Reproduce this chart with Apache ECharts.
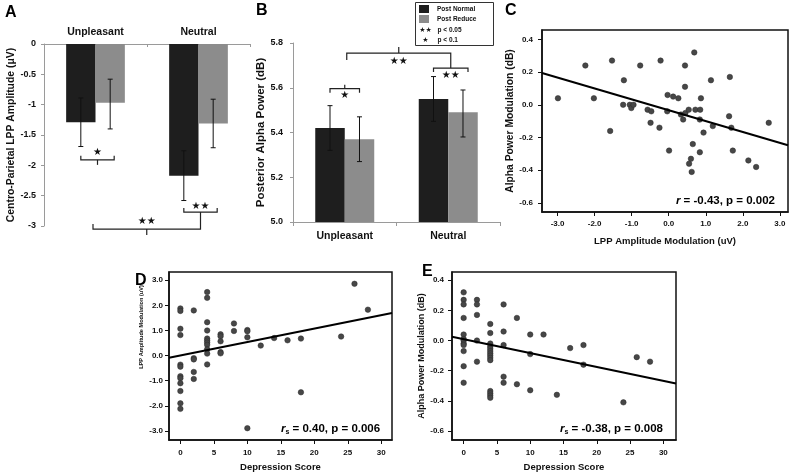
<!DOCTYPE html>
<html><head><meta charset="utf-8">
<script src="https://cdn.jsdelivr.net/npm/echarts@6/dist/echarts.min.js"></script>
<style>html,body{margin:0;padding:0;background:#fff}#c{width:791px;height:473px}</style>
</head><body><div id="c"></div><script>
const FONT = '"Liberation Sans", Arial, Helvetica, sans-serif';
const STARFONT = '"DejaVu Sans", sans-serif';

// ---- Panels A & B: bar charts ----
const conditions = ['Unpleasant', 'Neutral'];
const seriesNames = ['Post Normal', 'Post Reduce'];
const lppNormal = [-1.29, -2.17];
const lppReduce = [-0.97, -1.31];
const lppNormalLow = [-1.69, -2.58];
const lppNormalHigh = [-0.89, -1.76];
const lppReduceLow = [-1.40, -1.71];
const lppReduceHigh = [-0.58, -0.91];
const alphaNormal = [5.42, 5.55];
const alphaReduce = [5.37, 5.49];
const alphaNormalLow = [5.32, 5.45];
const alphaNormalHigh = [5.52, 5.65];
const alphaReduceLow = [5.27, 5.38];
const alphaReduceHigh = [5.47, 5.59];

// ---- Panel C: LPP modulation vs alpha modulation ----
const lppModC = [-2.99,-2.25,-2.02,-1.53,-1.58,-1.21,-1.23,-1.05,-1.01,-0.95,-0.77,-0.57,-0.47,-0.49,-0.25,-0.22,-0.04,-0.03,0.01,0.12,0.26,0.33,0.44,0.44,0.39,0.45,0.54,0.69,0.72,0.85,0.87,0.84,0.65,0.84,0.60,0.55,0.62,0.94,1.14,1.19,1.65,1.63,1.69,1.73,2.15,2.36,2.70];
const alphaModC = [0.04,0.24,0.04,0.27,-0.16,0.15,0.00,0.00,-0.02,0.00,0.24,-0.03,-0.04,-0.11,-0.14,0.27,-0.04,0.06,-0.28,0.05,0.04,-0.06,0.24,0.11,-0.09,-0.05,-0.03,0.32,-0.03,-0.03,0.04,-0.09,-0.24,-0.29,-0.33,-0.36,-0.41,-0.17,0.15,-0.13,0.17,-0.07,-0.14,-0.28,-0.34,-0.38,-0.11];
const fitC = [[-3.42, 0.194], [3.22, -0.247]];

// ---- Panel D: depression score vs LPP modulation ----
const depD = [0,0,0,0,0,0,0,0,0,0,0,0, 2,2,2,2,2, 4,4,4,4,4,4,4,4,4,4,4, 6,6,6,6,6, 8,8, 10,10,10,10, 12, 14, 16, 18,18, 24, 26, 28];
const lppD = [1.88,1.78,1.07,0.82,-0.36,-0.44,-0.82,-0.90,-1.10,-1.41,-1.90,-2.12, 1.80,-0.10,-0.15,-0.65,-0.93, 2.53,2.30,1.33,1.00,0.68,0.60,0.52,0.43,0.25,0.08,-0.35, 0.85,0.77,0.57,0.14,0.09, 1.28,0.98, 1.02,0.97,0.73,-2.89, 0.40, 0.70, 0.61, 0.68,-1.46, 0.76, 2.86, 1.83];
const fitD = [[-1.70, -0.083], [31.6, 1.70]];

// ---- Panel E: depression score vs alpha modulation ----
const depE = [0,0,0,0,0,0,0,0,0,0,0,0, 2,2,2,2,2, 4,4,4,4,4,4,4,4,4,4,4,4,4,4, 6,6,6,6,6, 8,8, 10,10,10, 12, 14, 16, 18,18, 24, 26, 28];
const alphaE = [0.32,0.27,0.24,0.15,0.04,0.01,0.00,-0.02,-0.03,-0.07,-0.17,-0.28, 0.27,0.24,0.17,0.00,-0.14, 0.11,0.05,-0.02,-0.04,-0.055,-0.07,-0.085,-0.10,-0.115,-0.13,-0.335,-0.35,-0.365,-0.38, 0.24,0.06,-0.03,-0.24,-0.28, 0.15,-0.29, 0.04,-0.09,-0.33, 0.04, -0.36, -0.05, -0.03,-0.16, -0.41, -0.11, -0.14];
const fitE = [[-1.75, 0.025], [31.9, -0.285]];

// ---- tick labels ----
const ticksA = [-3,-2.5,-2,-1.5,-1,-0.5,0];
const ticksB = [5.0,5.2,5.4,5.6,5.8];
const ticksCx = [-3,-2,-1,0,1,2,3];
const ticksCy = [-0.6,-0.4,-0.2,0,0.2,0.4];
const ticksDx = [0,5,10,15,20,25,30];
const ticksDy = [-3,-2,-1,0,1,2,3];
const ticksEy = [-0.6,-0.4,-0.2,0,0.2,0.4];

const BLACK = '#1e1e1e', GRAY = '#8c8c8c', DOT = '#474747';
const GAP = 0.43;

const chart = echarts.init(document.getElementById('c'), null, {renderer: 'canvas'});

function errSeries(gi, low, high, sign) {
  return {
    type: 'custom', xAxisIndex: gi, yAxisIndex: gi, silent: true, z: 5,
    data: low.map((l, i) => [i, l, high[i]]),
    renderItem: function (params, api) {
      const hi = api.coord([api.value(0), api.value(2)]);
      const lo = api.coord([api.value(0), api.value(1)]);
      const band = api.size([1, 0])[0];
      const bw = band * (1 - GAP) / 2;
      const x = hi[0] + sign * bw / 2;
      const st = {stroke: '#111', lineWidth: 1};
      return {type: 'group', children: [
        {type: 'line', shape: {x1: x, y1: hi[1], x2: x, y2: lo[1]}, style: st},
        {type: 'line', shape: {x1: x - 2.5, y1: hi[1], x2: x + 2.5, y2: hi[1]}, style: st},
        {type: 'line', shape: {x1: x - 2.5, y1: lo[1], x2: x + 2.5, y2: lo[1]}, style: st}
      ]};
    }
  };
}

const lblBold = (size, extra) => Object.assign({fontFamily: FONT, fontWeight: 'bold', fontSize: size, color: '#111'}, extra || {});

function scatterX(gi, min, max, ticks, fmt, name, gap, margin) {
  return {
    type: 'value', gridIndex: gi, min: min, max: max,
    axisLine: {show: true, onZero: false, lineStyle: {color: '#111', width: 1.5}},
    axisTick: {show: true, length: 4, customValues: ticks, lineStyle: {color: '#111', width: 1}},
    axisLabel: Object.assign(lblBold(8), {customValues: ticks, margin: margin, formatter: fmt}),
    splitLine: {show: false},
    name: name, nameLocation: 'middle', nameGap: gap,
    nameTextStyle: lblBold(9.5)
  };
}
function scatterY(gi, min, max, ticks, fmt, name, gap, margin, nameSize) {
  return {
    type: 'value', gridIndex: gi, min: min, max: max,
    axisLine: {show: true, onZero: false, lineStyle: {color: '#111', width: 1.5}},
    axisTick: {show: true, length: 4, customValues: ticks, lineStyle: {color: '#111', width: 1}},
    axisLabel: Object.assign(lblBold(8), {customValues: ticks, margin: margin, formatter: fmt}),
    splitLine: {show: false},
    name: name, nameLocation: 'middle', nameGap: gap,
    nameTextStyle: lblBold(nameSize)
  };
}
const f1 = v => Number(v).toFixed(1);
const f0 = v => String(Math.round(v));

const gridBase = {containLabel: false, outerBoundsMode: 'none'};
const frame = {show: true, borderColor: '#111', borderWidth: 1.5, backgroundColor: 'transparent'};

const option = {
  animation: false,
  textStyle: {fontFamily: FONT},
  legend: {
    data: seriesNames, orient: 'vertical', left: 419, top: 5,
    itemWidth: 10, itemHeight: 8, itemGap: 2, padding: 0, icon: 'rect',
    textStyle: {fontFamily: FONT, fontWeight: 'bold', fontSize: 6.5, color: '#111', padding: [0, 0, 0, 3]}
  },
  grid: [
    Object.assign({left: 44, top: 44, width: 206, height: 182}, gridBase),
    Object.assign({left: 293, top: 43, width: 207, height: 179}, gridBase),
    Object.assign({left: 542, top: 30, width: 246, height: 182}, gridBase, frame),
    Object.assign({left: 169, top: 272, width: 223, height: 168}, gridBase, frame),
    Object.assign({left: 452, top: 272, width: 224, height: 168}, gridBase, frame)
  ],
  xAxis: [
    {type: 'category', gridIndex: 0, data: conditions, position: 'top',
     axisLine: {show: true, onZero: false, lineStyle: {color: '#9a9a9a'}},
     axisTick: {show: true, inside: true, length: 3, lineStyle: {color: '#9a9a9a'}},
     axisLabel: lblBold(10.5, {margin: 6})},
    {type: 'category', gridIndex: 1, data: conditions, position: 'bottom',
     axisLine: {show: true, lineStyle: {color: '#9a9a9a'}},
     axisTick: {show: true, length: 4, lineStyle: {color: '#9a9a9a'}},
     axisLabel: lblBold(10.5, {margin: 9})},
    scatterX(2, -3.42, 3.22, ticksCx, f1, 'LPP Amplitude Modulation (uV)', 24, 8),
    scatterX(3, -1.70, 31.6, ticksDx, f0, 'Depression Score', 22, 9),
    scatterX(4, -1.75, 31.9, ticksDx, f0, 'Depression Score', 22, 9)
  ],
  yAxis: [
    {type: 'value', gridIndex: 0, min: -3, max: 0, interval: 0.5,
     axisLine: {show: true, lineStyle: {color: '#9a9a9a'}},
     axisTick: {show: true, length: 3, lineStyle: {color: '#9a9a9a'}},
     axisLabel: lblBold(9, {margin: 8, formatter: v => String(v)}),
     splitLine: {show: false},
     name: 'Centro-Parietal LPP Amplitude (μV)', nameLocation: 'middle', nameGap: 26,
     nameTextStyle: lblBold(10.4)},
    {type: 'value', gridIndex: 1, min: 5.0, max: 5.8, interval: 0.2,
     axisLine: {show: true, lineStyle: {color: '#9a9a9a'}},
     axisTick: {show: true, length: 3, lineStyle: {color: '#9a9a9a'}},
     axisLabel: lblBold(9, {margin: 10, formatter: f1}),
     splitLine: {show: false},
     name: 'Posterior Alpha Power (dB)', nameLocation: 'middle', nameGap: 22,
     nameTextStyle: lblBold(11.5)},
    scatterY(2, -0.655, 0.457, ticksCy, f1, 'Alpha Power Modulation (dB)', 22, 9, 10.3),
    scatterY(3, -3.36, 3.33, ticksDy, f1, '', 20, 6, 6),
    scatterY(4, -0.66, 0.455, ticksEy, f1, 'Alpha Power Modulation (dB)', 13, 8, 9)
  ],
  series: [
    {type: 'bar', name: seriesNames[0], xAxisIndex: 0, yAxisIndex: 0, data: lppNormal,
     itemStyle: {color: BLACK}, barGap: '0%', barCategoryGap: (GAP * 100) + '%'},
    {type: 'bar', name: seriesNames[1], xAxisIndex: 0, yAxisIndex: 0, data: lppReduce,
     itemStyle: {color: GRAY}, barGap: '0%', barCategoryGap: (GAP * 100) + '%'},
    errSeries(0, lppNormalLow, lppNormalHigh, -1),
    errSeries(0, lppReduceLow, lppReduceHigh, 1),
    {type: 'bar', name: seriesNames[0], xAxisIndex: 1, yAxisIndex: 1, data: alphaNormal,
     itemStyle: {color: BLACK}, barGap: '0%', barCategoryGap: (GAP * 100) + '%'},
    {type: 'bar', name: seriesNames[1], xAxisIndex: 1, yAxisIndex: 1, data: alphaReduce,
     itemStyle: {color: GRAY}, barGap: '0%', barCategoryGap: (GAP * 100) + '%'},
    errSeries(1, alphaNormalLow, alphaNormalHigh, -1),
    errSeries(1, alphaReduceLow, alphaReduceHigh, 1),
    {type: 'scatter', xAxisIndex: 2, yAxisIndex: 2, symbolSize: 5.5,
     data: lppModC.map((x, i) => [x, alphaModC[i]]),
     itemStyle: {color: DOT, borderColor: '#2b2b2b', borderWidth: 0.5, opacity: 1}},
    {type: 'line', xAxisIndex: 2, yAxisIndex: 2, data: fitC, showSymbol: false, silent: true,
     lineStyle: {color: '#000', width: 2}, z: 3},
    {type: 'scatter', xAxisIndex: 3, yAxisIndex: 3, symbolSize: 5.5,
     data: depD.map((x, i) => [x, lppD[i]]),
     itemStyle: {color: DOT, borderColor: '#2b2b2b', borderWidth: 0.5, opacity: 1}},
    {type: 'line', xAxisIndex: 3, yAxisIndex: 3, data: fitD, showSymbol: false, silent: true,
     lineStyle: {color: '#000', width: 2}, z: 3},
    {type: 'scatter', xAxisIndex: 4, yAxisIndex: 4, symbolSize: 5.5,
     data: depE.map((x, i) => [x, alphaE[i]]),
     itemStyle: {color: DOT, borderColor: '#2b2b2b', borderWidth: 0.5, opacity: 1}},
    {type: 'line', xAxisIndex: 4, yAxisIndex: 4, data: fitE, showSymbol: false, silent: true,
     lineStyle: {color: '#000', width: 2}, z: 3}
  ]
};
chart.setOption(option);

// ---- annotations (brackets, stars, letters, legend extras) ----
const g = [];
const P = (gi, x, y) => chart.convertToPixel({gridIndex: gi}, [x, y]);
const LS = {stroke: '#222', lineWidth: 1.2, fill: null};
function bracket(x1, x2, y, e1, e2, midDy, label, labelDy) {
  const mx = (x1 + x2) / 2;
  g.push({type: 'polyline', silent: true, shape: {points: [[x1, y + e1], [x1, y], [x2, y], [x2, y + e2]]}, style: LS});
  g.push({type: 'line', silent: true, shape: {x1: mx, y1: y, x2: mx, y2: y + midDy}, style: LS});
  g.push({type: 'text', silent: true, x: mx, y: y + labelDy,
    style: {text: label, fontFamily: STARFONT, fontSize: 10, fill: '#111', align: 'center', verticalAlign: 'middle'}});
  return {mx: mx, y: y};
}
// Panel A
{
  const c0 = P(0, 0, 0)[0], c1 = P(0, 1, 0)[0];
  const bw = (c1 - c0) * (1 - GAP) / 2;
  const a1 = bracket(c0 - bw / 2, c0 + bw / 2 + 4, P(0, 0, -1.91)[1], -4, -4, 5, '★', -7);
  const a2 = bracket(c1 - bw / 2, c1 + bw / 2 + 4, P(0, 1, -2.77)[1], -4, -4, 5, '★★', -6);
  const y3 = P(0, 0, -3.05)[1];
  bracket(c0 - 2.5, a2.mx, y3, -5, (a2.y + 5) - y3, 6, '★★', -8);
}
// Panel B
{
  const c0 = P(1, 0, 5)[0], c1 = P(1, 1, 5)[0];
  const bw = (c1 - c0) * (1 - GAP) / 2;
  const b1 = bracket(c0 - bw / 2, c0 + bw / 2, P(1, 0, 5.596)[1], 4, 4, -4, '★', 7);
  const b2 = bracket(c1 - bw / 2, c1 + bw / 2 + 5, P(1, 1, 5.688)[1], 4, 4, -4, '★★', 7);
  const y3 = P(1, 0, 5.755)[1];
  bracket(b1.mx + 2, b2.mx, y3, 7, (b2.y - 4) - y3, -6, '★★', 8);
}
// legend box and star rows
g.push({type: 'rect', silent: true, shape: {x: 415.5, y: 2.5, width: 78, height: 43}, style: {fill: null, stroke: '#333', lineWidth: 1}});
g.push({type: 'text', silent: true, x: 425.5, y: 30.5, style: {text: '★★', fontFamily: STARFONT, fontSize: 7, fill: '#111', align: 'center', verticalAlign: 'middle'}});
g.push({type: 'text', silent: true, x: 425.5, y: 40.5, style: {text: '★', fontFamily: STARFONT, fontSize: 7, fill: '#111', align: 'center', verticalAlign: 'middle'}});
g.push({type: 'text', silent: true, x: 437.5, y: 30.5, style: {text: 'p < 0.05', fontFamily: FONT, fontWeight: 'bold', fontSize: 6.5, fill: '#111', align: 'left', verticalAlign: 'middle'}});
g.push({type: 'text', silent: true, x: 437.5, y: 40.5, style: {text: 'p < 0.1', fontFamily: FONT, fontWeight: 'bold', fontSize: 6.5, fill: '#111', align: 'left', verticalAlign: 'middle'}});
// panel letters
[['A', 5, 13], ['B', 256, 11], ['C', 505, 11], ['D', 135, 281], ['E', 422, 272]].forEach(l => {
  g.push({type: 'text', silent: true, x: l[1], y: l[2], style: {text: l[0], fontFamily: FONT, fontWeight: 'bold', fontSize: 16, fill: '#000', align: 'left', verticalAlign: 'middle'}});
});
// D y-axis title (small)
g.push({type: 'text', silent: true, x: 141.5, y: 327, rotation: Math.PI / 2,
  style: {text: 'LPP Amplitude Modulation (uV)', fontFamily: FONT, fontWeight: 'bold', fontSize: 5.6, fill: '#111', align: 'center', verticalAlign: 'middle'}});
// statistics
const rich = {
  i: {fontFamily: FONT, fontWeight: 'bold', fontStyle: 'italic', fontSize: 11.5, fill: '#000', lineHeight: 14},
  s: {fontFamily: FONT, fontWeight: 'bold', fontSize: 7, fill: '#000', lineHeight: 14, verticalAlign: 'bottom', padding: [5, 0, 0, 0]},
  t: {fontFamily: FONT, fontWeight: 'bold', fontSize: 11.5, fill: '#000', lineHeight: 14}
};
g.push({type: 'text', silent: true, x: 775, y: 201, style: {text: '{i|r}{t| = -0.43, p = 0.002}', rich: rich, align: 'right', verticalAlign: 'middle'}});
g.push({type: 'text', silent: true, x: 281, y: 429, style: {text: '{i|r}{s|s}{t| = 0.40, p = 0.006}', rich: rich, align: 'left', verticalAlign: 'middle'}});
g.push({type: 'text', silent: true, x: 560, y: 429, style: {text: '{i|r}{s|s}{t| = -0.38, p = 0.008}', rich: rich, align: 'left', verticalAlign: 'middle'}});

chart.setOption({graphic: g});
</script></body></html>
